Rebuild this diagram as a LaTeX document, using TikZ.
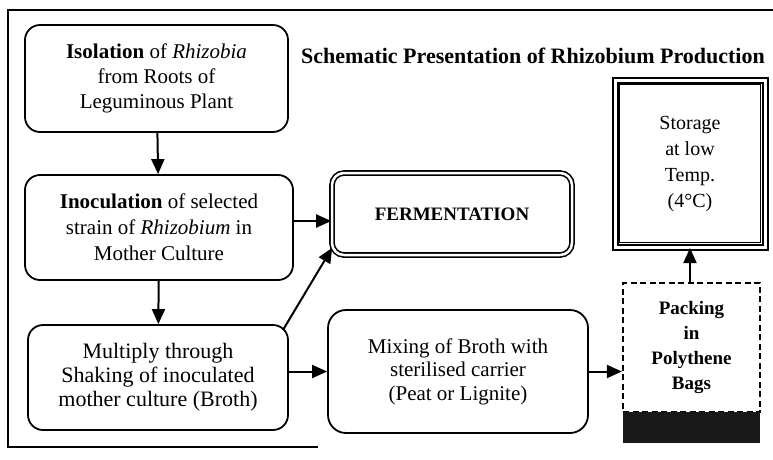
\documentclass[tikz,border=0pt]{standalone}
\usepackage{fontspec}
\setmainfont{Liberation Serif}
\usetikzlibrary{arrows.meta}

\begin{document}
\begin{tikzpicture}[x=1pt, y=-1pt,
	stage/.style={draw, line width=1.8pt, rounded corners=15pt, align=center, inner sep=0pt, font=\fontsize{21}{25}\selectfont},
	>={Triangle[length=15pt,width=13pt]}]
	\useasboundingbox (0,0) rectangle (773,459);
	\draw[line width=1.2pt] (773,10) -- (8,10) -- (8,447) -- (318,447);
	\node (title) at (533,56) {\fontsize{22}{26}\selectfont\bfseries Schematic Presentation of Rhizobium Production};
	\node[stage, minimum width=263pt, minimum height=107pt] (iso) at (156.5,78.5)
		{\textbf{Isolation} of \textit{Rhizobia}\\from Roots of\\Leguminous Plant};
	\node[stage, minimum width=268pt, minimum height=105pt, font=\fontsize{21}{26}\selectfont] (inoc) at (159,227.5)
		{\textbf{Inoculation} of selected\\strain of \textit{Rhizobium} in\\Mother Culture};
	\node[stage, minimum width=260pt, minimum height=105pt, font=\fontsize{22}{24}\selectfont] (mult) at (158,377.5)
		{Multiply through\\Shaking of inoculated\\mother culture (Broth)};
	\node[stage, minimum width=240pt, minimum height=82pt, rounded corners=12pt, line width=1.6pt, double, double distance=2.5pt,
		font=\fontsize{19}{23}\selectfont\bfseries] (ferm) at (452,214) {FERMENTATION};
	\node[stage, minimum width=260pt, minimum height=123pt, rounded corners=18pt, font=\fontsize{21}{23.5}\selectfont] (mix) at (458,371.5)
		{Mixing of Broth with\\sterilised carrier\\(Peat or Lignite)};
	\node[draw, line width=2.2pt, dash pattern=on 6pt off 3.5pt, minimum width=137pt, minimum height=129pt, inner sep=0pt,
		align=center, font=\fontsize{19}{25}\selectfont\bfseries] (pack) at (691.5,347.5) {Packing\\in\\Polythene\\Bags};
	\node[fill=black!90, minimum width=137pt, minimum height=31pt, inner sep=0pt] (bag) at (691.5,427.5) {};
	\node[draw, line width=2pt, double, double distance=3pt, minimum width=150pt, minimum height=167pt, inner sep=0pt,
		align=center, font=\fontsize{20}{26}\selectfont] (store) at (690,163.5) {Storage\\at low\\Temp.\\(4°C)};
	\draw[line width=0.8pt] ([xshift=5.5pt,yshift=-5.5pt]store.north west) rectangle ([xshift=-5.5pt,yshift=5.5pt]store.south east);
	\path[->, line width=2pt]
	(iso) edge (inoc)
	(inoc) edge (mult)
	([yshift=-7pt]ferm.west -| inoc.east) edge ([yshift=-7pt]ferm.west)
	([xshift=-6pt,yshift=-6pt]mult.north east) edge ([xshift=1pt,yshift=8pt]ferm.south west)
	(mult.east |- mix.west) edge (mix.west)
	(mix.east) edge (mix.east -| pack.west)
	(pack.north -| store.south) edge (store.south);
\end{tikzpicture}
\end{document}
